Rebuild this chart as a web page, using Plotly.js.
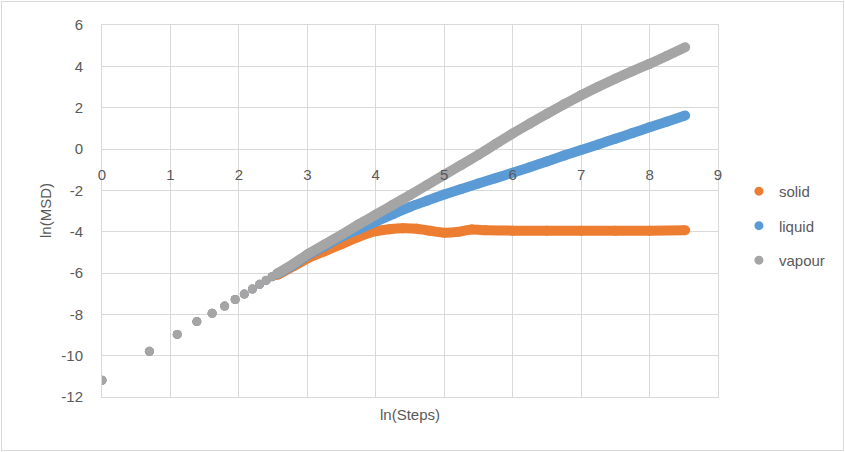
<!DOCTYPE html>
<html>
<head>
<meta charset="utf-8">
<script src="https://cdn.plot.ly/plotly-3.0.1.min.js"></script>
<style>
  html, body { margin: 0; padding: 0; background: #fff; }
  #wrap { position: relative; width: 845px; height: 452px; }
  #chart { width: 845px; height: 452px; }
  #frame { position: absolute; left: 1px; top: 1px; width: 841px; height: 448px;
           border: 1px solid #d9d9d9; pointer-events: none; }
</style>
</head>
<body>
<div id="wrap"><div id="chart"></div><div id="frame"></div></div>
<script>
// Early, individually visible points (ln of first steps)
const earlyX = [0, 0.693, 1.099, 1.386, 1.609, 1.792, 1.946, 2.079, 2.197, 2.303, 2.398, 2.485];
const solidEarlyY  = [-11.19, -9.79, -8.97, -8.35, -7.95, -7.6, -7.28, -7.02, -6.78, -6.55, -6.36, -6.18];
const liquidEarlyY = [-11.19, -9.79, -8.97, -8.35, -7.95, -7.6, -7.28, -7.02, -6.78, -6.55, -6.36, -6.18];
const vapourEarlyY = [-11.19, -9.79, -8.97, -8.35, -7.95, -7.6, -7.28, -7.02, -6.78, -6.55, -6.35, -6.17];

// Dense part (read along the thick bands)
const solidX = [2.56, 2.8, 3.0, 3.25, 3.5, 3.75, 4.0, 4.2, 4.4, 4.6, 4.8, 5.0, 5.2, 5.4, 5.6, 6.0, 6.5, 7.0, 7.5, 8.0, 8.52];
const solidY = [-6.1, -5.67, -5.3, -4.95, -4.6, -4.25, -3.98, -3.88, -3.84, -3.86, -3.96, -4.05, -4.01, -3.9, -3.93, -3.95, -3.95, -3.95, -3.95, -3.95, -3.93];

const liquidX = [2.56, 2.8, 3.0, 3.25, 3.5, 3.75, 4.0, 4.25, 4.5, 4.75, 5.0, 5.25, 5.5, 5.75, 6.0, 6.25, 6.5, 6.75, 7.0, 7.25, 7.5, 7.75, 8.0, 8.25, 8.52];
const liquidY = [-6.05, -5.6, -5.15, -4.7, -4.25, -3.88, -3.52, -3.15, -2.8, -2.5, -2.2, -1.93, -1.67, -1.41, -1.15, -0.88, -0.6, -0.32, -0.05, 0.22, 0.5, 0.77, 1.05, 1.32, 1.62];

const vapourX = [2.56, 2.8, 3.0, 3.25, 3.5, 3.75, 4.0, 4.25, 4.5, 4.75, 5.0, 5.25, 5.5, 5.75, 6.0, 6.25, 6.5, 6.75, 7.0, 7.25, 7.5, 7.75, 8.0, 8.25, 8.52];
const vapourY = [-6.03, -5.55, -5.1, -4.62, -4.15, -3.65, -3.18, -2.7, -2.23, -1.74, -1.25, -0.77, -0.28, 0.24, 0.75, 1.23, 1.7, 2.16, 2.6, 3.01, 3.4, 3.77, 4.12, 4.5, 4.92];

const seriesNames = ['solid', 'liquid', 'vapour'];
const seriesColors = ['#ED7D31', '#5B9BD5', '#A5A5A5'];

const xTicks = [0, 1, 2, 3, 4, 5, 6, 7, 8, 9];
const yTicks = [-12, -10, -8, -6, -4, -2, 0, 2, 4, 6];

const early = [solidEarlyY, liquidEarlyY, vapourEarlyY];
const bandX = [solidX, liquidX, vapourX];
const bandY = [solidY, liquidY, vapourY];

const traces = [];
for (let i = 0; i < 3; i++) {
  traces.push({
    type: 'scatter', mode: 'markers', name: seriesNames[i], legendgroup: seriesNames[i],
    x: earlyX, y: early[i], marker: { color: seriesColors[i], size: 9 }, hoverinfo: 'x+y'
  });
  traces.push({
    type: 'scatter', mode: 'lines+markers', name: seriesNames[i], legendgroup: seriesNames[i], showlegend: false,
    x: bandX[i], y: bandY[i], line: { color: seriesColors[i], width: 10, shape: 'spline', smoothing: 0.5 },
    marker: { color: seriesColors[i], size: 10 }, hoverinfo: 'x+y'
  });
}

const fontFam = '"Liberation Sans", Arial, sans-serif';
const txt = '#595959';
const grid = '#d9d9d9';

const layout = {
  width: 845, height: 452,
  margin: { l: 102, r: 127, t: 25, b: 55, autoexpand: false },
  paper_bgcolor: '#fff', plot_bgcolor: '#fff',
  font: { family: fontFam, size: 15, color: txt },
  showlegend: true,
  legend: {
    x: 1.034, xanchor: 'left', y: 0.597, yanchor: 'top',
    font: { family: fontFam, size: 15, color: txt },
    traceorder: 'grouped', tracegroupgap: 12, itemwidth: 30
  },
  xaxis: {
    range: [0, 9], tickvals: xTicks, showticklabels: false,
    showgrid: true, gridcolor: grid, gridwidth: 1, zeroline: false,
    showline: true, linecolor: grid, linewidth: 1, mirror: true, ticks: ''
  },
  xaxis2: {
    overlaying: 'x', anchor: 'free', position: 12 / 18, side: 'bottom',
    range: [0, 9], tickvals: xTicks, ticktext: xTicks.map(String),
    showgrid: false, zeroline: false, showline: false, ticks: '',
    ticklabelstandoff: 15,
    tickfont: { family: fontFam, size: 15, color: txt }
  },
  yaxis: {
    range: [-12, 6], tickvals: yTicks, ticktext: yTicks.map(String),
    showgrid: true, gridcolor: grid, gridwidth: 1,
    zeroline: true, zerolinecolor: grid, zerolinewidth: 1,
    showline: true, linecolor: grid, linewidth: 1, mirror: true, ticks: '',
    ticklabelstandoff: 15,
    tickfont: { family: fontFam, size: 15, color: txt }
  },
  annotations: [
    { text: 'ln(Steps)', xref: 'paper', yref: 'paper', x: 0.5, y: -0.048,
      xanchor: 'center', yanchor: 'middle', showarrow: false,
      font: { family: fontFam, size: 15, color: txt } },
    { text: 'ln(MSD)', xref: 'paper', yref: 'paper', x: -0.0925, y: 0.5,
      xanchor: 'center', yanchor: 'middle', showarrow: false, textangle: -90,
      font: { family: fontFam, size: 15, color: txt } }
  ]
};

// empty trace that activates the x tick labels drawn along y = 0
traces.push({ type: 'scatter', mode: 'markers', x: [], y: [], xaxis: 'x2', showlegend: false, hoverinfo: 'skip' });

Plotly.newPlot('chart', traces, layout, { staticPlot: true, displayModeBar: false });
</script>
</body>
</html>
